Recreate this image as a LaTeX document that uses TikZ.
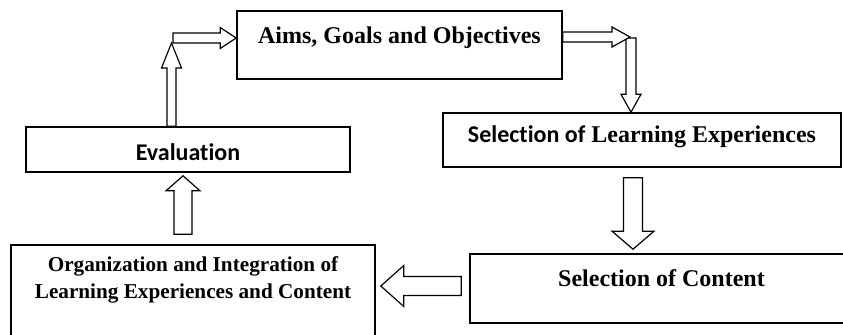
\documentclass[tikz,border=0pt]{standalone}
\usepackage{fontspec}
\setmainfont{Liberation Serif}
\newfontfamily\calibri[Ligatures=NoCommon]{Carlito}
\usetikzlibrary{calc}

% open block arrow from #1 to #2: shaft half width #3, head half width #4, head length #5
\newcommand{\blockarrow}[5]{%
  \coordinate (bahead) at ($(#2)!#5!(#1)$);
  \draw[arrowstyle] ($(#1)!#3!90:(#2)$) -- ($(bahead)!#3!90:(#2)$) -- ($(bahead)!#4!90:(#2)$) -- (#2)
    -- ($(bahead)!#4!-90:(#2)$) -- ($(bahead)!#3!-90:(#2)$) -- ($(#1)!#3!-90:(#2)$) -- cycle;
}

\begin{document}
\begin{tikzpicture}[x=0.5pt, y=-0.5pt, font=\bfseries\fontsize{12}{14}\selectfont]
\tikzstyle{stagebox}=[rectangle, draw=black, line width=0.8pt, inner sep=0pt, align=center]
\tikzstyle{arrowstyle}=[draw=black, line width=0.6pt, line join=miter, fill=white]

\useasboundingbox (0,0) rectangle (843,334);
\clip (0,0) rectangle (843,334);

\node[stagebox, minimum width=162.5pt, text height=16pt, text depth=18pt] (aims) at (399.5,45) {Aims, Goals and Objectives};
\node[stagebox, minimum width=199pt, text height=14.5pt, text depth=12.5pt] (sle) at (642,140) {{\calibri Selection of} Learning Experiences};
\node[stagebox, minimum width=162pt, text height=16.5pt, text depth=6pt] (eval) at (188,149.5) {\calibri Evaluation};
\node[stagebox, minimum width=182pt, text height=26.5pt, text depth=26pt, font=\bfseries\fontsize{10.6}{13.15}\selectfont] (org) at (193,297.5) {Organization and Integration of\\Learning Experiences and Content};
\node[stagebox, minimum width=191.5pt, text height=16pt, text depth=18.5pt] (soc) at (661.5,288.5) {Selection of Content};

% evaluation back to aims
\coordinate (evalout) at ($(eval.north)+(-16.5,0)$);
\coordinate (turnup) at (171.5,43);
\coordinate (turnright) at (173,38);
\coordinate (aimsin) at (aims.west |- turnright);
\blockarrow{evalout}{turnup}{2.25pt}{5pt}{12.5pt}
\blockarrow{turnright}{aimsin}{2.5pt}{5.25pt}{8pt}

% aims to learning experiences
\coordinate (aimsout) at ($(aims.east)+(0,-8)$);
\coordinate (turndown) at (630,37);
\coordinate (turnstart) at (631,38);
\coordinate (slein) at (sle.north -| turnstart);
\blockarrow{turnstart}{slein}{2.5pt}{5pt}{9pt}
\blockarrow{aimsout}{turndown}{2.5pt}{5pt}{9pt}

% learning experiences to content
\coordinate (sleout) at ($(sle.south)+(-9,10)$);
\coordinate (socin) at ($(soc.north)+(-28.5,-4)$);
\blockarrow{sleout}{socin}{4.75pt}{10.5pt}{9pt}

% content to organization
\coordinate (socout) at ($(soc.west)+(-8,-2.5)$);
\coordinate (orgin) at ($(org.east |- socout)+(5,0)$);
\blockarrow{socout}{orgin}{4.75pt}{10.25pt}{11.5pt}

% organization to evaluation
\coordinate (orgout) at ($(org.north)+(-10,-10)$);
\coordinate (evalin) at ($(eval.south)+(-5,3)$);
\blockarrow{orgout}{evalin}{4.5pt}{8.5pt}{7.5pt}
\end{tikzpicture}
\end{document}
